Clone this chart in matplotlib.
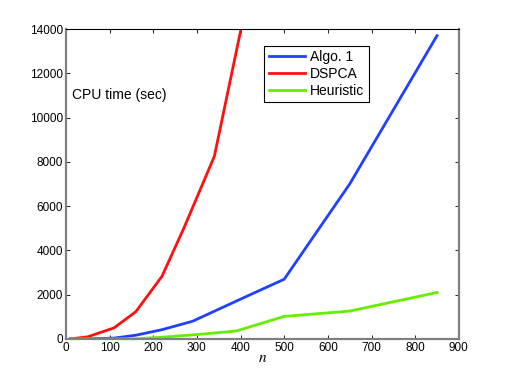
import matplotlib
matplotlib.use("Agg")
import matplotlib.pyplot as plt

plt.rcParams['font.family'] = ['Liberation Sans', 'DejaVu Sans']
plt.rcParams['mathtext.fontset'] = 'stix'

# values
n_algo = [10, 50, 110, 160, 220, 290, 400, 500, 650, 850]
t_algo = [0, 10, 40, 170, 420, 800, 1800, 2700, 7000, 13700]

n_dspca = [10, 50, 110, 160, 220, 270, 340, 400]
t_dspca = [0, 100, 500, 1230, 2830, 5000, 8250, 13900]

n_heur = [10, 50, 110, 160, 220, 300, 390, 500, 650, 850]
t_heur = [0, 0, 0, 10, 80, 200, 360, 1020, 1260, 2100]

x_ticks = list(range(0, 901, 100))
y_ticks = list(range(0, 14001, 2000))


def main(save_path="out.png"):
    fig = plt.figure(figsize=(5.07, 3.82), dpi=100)
    ax = fig.add_axes([0.130, 0.1126, 0.775, 0.8114])

    ax.plot(n_algo, t_algo, color="#2040ff", linewidth=2.0, label="Algo. 1")
    ax.plot(n_dspca, t_dspca, color="#ff1010", linewidth=2.0, label="DSPCA")
    ax.plot(n_heur, t_heur, color="#66ee00", linewidth=2.0, label="Heuristic")

    ax.set_xlim(0, 900)
    ax.set_ylim(0, 14000)
    ax.set_xticks(x_ticks)
    ax.set_yticks(y_ticks)
    ax.tick_params(direction="in", top=True, right=True, labelsize=8.5,
                   length=3, width=0.6, pad=2)
    for side in ["left", "bottom", "right"]:
        ax.spines[side].set_color("#808080")
        ax.spines[side].set_linewidth(1.6)
    ax.spines["top"].set_color("black")
    ax.spines["top"].set_linewidth(0.8)

    ax.text(14, 11000, "CPU time (sec)", fontsize=10, va="center", ha="left")
    ax.set_xlabel("$n$", fontsize=11, labelpad=-2)

    leg = ax.legend(loc="upper left", bbox_to_anchor=(0.505, 0.945), fontsize=10,
                    fancybox=False, framealpha=1, edgecolor="black",
                    handlelength=2.6, borderpad=0.3, labelspacing=0.2,
                    handletextpad=0.4, borderaxespad=0)
    leg.get_frame().set_linewidth(0.8)

    fig.savefig(save_path, dpi=100)


if __name__ == "__main__":
    main()
